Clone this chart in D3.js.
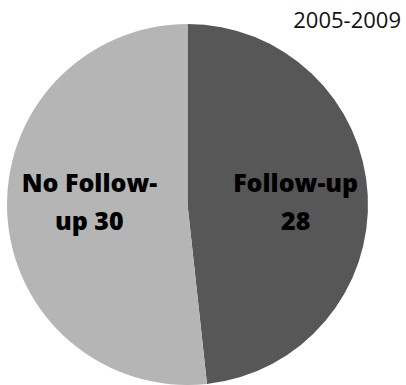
<!DOCTYPE html>
<html>
<head>
<meta charset="utf-8">
<script src="https://cdn.jsdelivr.net/npm/d3@7"></script>
<style>
  body { margin: 0; background: #fff; }
  svg { display: block; }
</style>
</head>
<body>
<div class="chart"></div>
<script>
const categories = ["Follow-up", "No Follow-up"];
const values = [28, 30];
const labelLines = [["Follow-up", "28"], ["No Follow-", "up 30"]];
const colors = ["#575757", "#b5b5b5"];
const title = "2005-2009";

const width = 406, height = 385;
const cx = 187.5, cy = 204.5, radius = 180.5;
const labelNudge = [0, 10];

const svg = d3.select(".chart").append("svg")
    .attr("width", width)
    .attr("height", height);

const data = categories.map((c, i) => ({name: c, value: values[i], lines: labelLines[i], color: colors[i], nudge: labelNudge[i]}));

const pie = d3.pie().value(d => d.value).sort(null);
const arc = d3.arc().innerRadius(0).outerRadius(radius);

const g = svg.append("g").attr("transform", `translate(${cx},${cy})`);

const arcs = pie(data);

g.selectAll("path")
    .data(arcs)
    .enter()
    .append("path")
    .attr("d", arc)
    .attr("fill", d => d.data.color);

// labels sit at 60% of radius
const labelArc = d3.arc().innerRadius(radius * 0.6).outerRadius(radius * 0.6);

arcs.forEach(d => {
    const [x, y] = labelArc.centroid(d);
    const t = g.append("text")
        .attr("text-anchor", "middle")
        .attr("font-family", "'Open Sans', sans-serif")
        .attr("font-weight", "800")
        .attr("font-size", "25px")
        .attr("fill", "#000");
    d.data.lines.forEach((line, i) => {
        t.append("tspan")
            .attr("x", x + d.data.nudge)
            .attr("y", -12.5 + i * 38)
            .text(line);
    });
});

svg.append("text")
    .attr("x", 401)
    .attr("y", 28)
    .attr("text-anchor", "end")
    .attr("font-family", "'Open Sans', sans-serif")
    .attr("font-size", "22px")
    .attr("fill", "#111")
    .text(title);
</script>
</body>
</html>
